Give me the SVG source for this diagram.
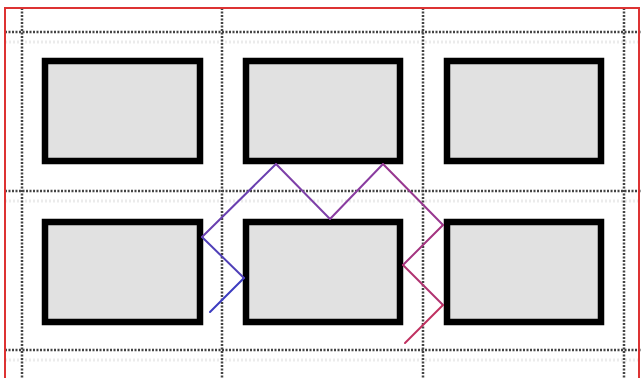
<svg xmlns="http://www.w3.org/2000/svg" width="641" height="378" viewBox="0 0 641 378">
<style>
.grid{stroke:#444;stroke-width:2.5;stroke-dasharray:2 1.5;fill:none}
.faint{stroke:#ccc;stroke-width:3;stroke-dasharray:2 2;fill:none;opacity:0.4}
.box{fill:#e1e1e1;stroke:#000;stroke-width:6.5}
.c{fill:none;stroke-width:2;stroke-linecap:round}
</style>
<rect x="0" y="0" width="641" height="378" fill="#fff"/>
<g id="grid">
<line class="faint" x1="5" y1="42" x2="641" y2="42"/>
<line class="faint" x1="5" y1="201" x2="641" y2="201"/>
<line class="faint" x1="5" y1="360" x2="641" y2="360"/>
<line class="grid" x1="5" y1="32" x2="641" y2="32"/>
<line class="grid" x1="5" y1="191" x2="641" y2="191"/>
<line class="grid" x1="5" y1="350" x2="641" y2="350"/>
<line class="grid" x1="22" y1="8" x2="22" y2="378"/>
<line class="grid" x1="222" y1="8" x2="222" y2="378"/>
<line class="grid" x1="423" y1="8" x2="423" y2="378"/>
<line class="grid" x1="624" y1="8" x2="624" y2="378"/>
</g>
<rect x="5" y="8" width="634" height="380" fill="none" stroke="#d33" stroke-width="2"/>
<g id="n11"><rect class="box" x="45" y="61" width="155" height="100"/></g>
<g id="n12"><rect class="box" x="246" y="61" width="154" height="100"/></g>
<g id="n13"><rect class="box" x="447" y="61" width="154" height="100"/></g>
<g id="n21"><rect class="box" x="45" y="222" width="155" height="100"/></g>
<g id="n22"><rect class="box" x="246" y="222" width="154" height="100"/></g>
<g id="n23"><rect class="box" x="447" y="222" width="154" height="100"/></g>
<g id="connectors">
<line class="c" stroke="#3c3cc0" x1="210" y1="312" x2="244" y2="278"/>
<line class="c" stroke="#5040b8" x1="244" y1="278" x2="202" y2="237"/>
<line class="c" stroke="#6a40b0" x1="202" y1="237" x2="276" y2="164"/>
<line class="c" stroke="#7e40a8" x1="276" y1="164" x2="330" y2="219"/>
<line class="c" stroke="#8a3ca0" x1="330" y1="219" x2="383" y2="164"/>
<line class="c" stroke="#983890" x1="383" y1="164" x2="443" y2="225"/>
<line class="c" stroke="#a43480" x1="443" y1="225" x2="403" y2="265"/>
<line class="c" stroke="#b03270" x1="403" y1="265" x2="443" y2="305"/>
<line class="c" stroke="#c03060" x1="443" y1="305" x2="405" y2="343"/>
</g>
</svg>
